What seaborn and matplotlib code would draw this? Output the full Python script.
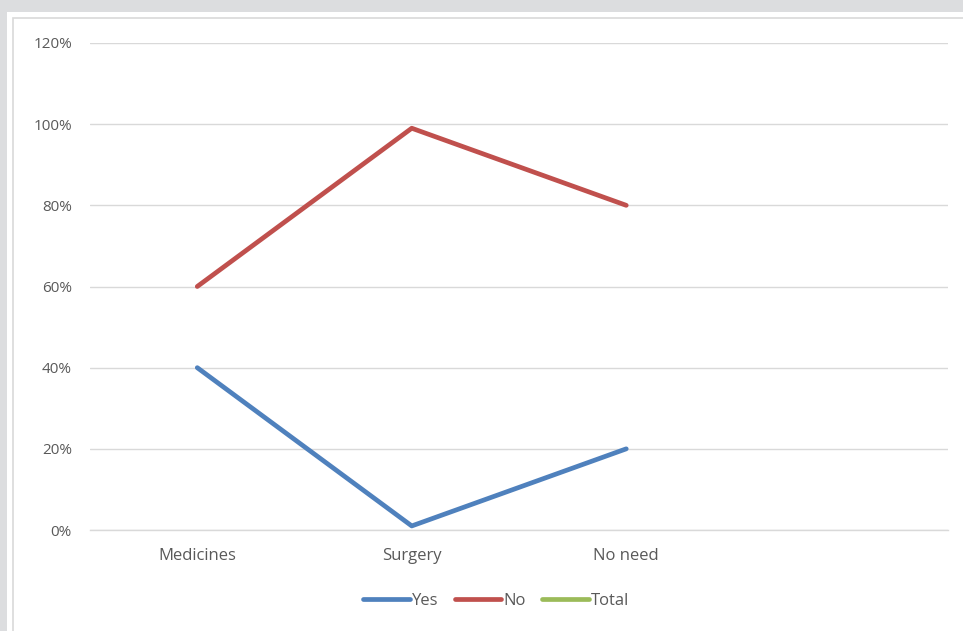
import matplotlib
matplotlib.use("Agg")
import matplotlib.pyplot as plt
from matplotlib.patches import Rectangle
from matplotlib.lines import Line2D
from matplotlib.ticker import PercentFormatter
import seaborn as sns
import pandas as pd
import numpy as np

categories = ["Medicines", "Surgery", "No need", ""]
series_names = ["Yes", "No", "Total"]
yes_vals = [40, 1, 20, np.nan]
no_vals = [60, 99, 80, np.nan]
total_vals = [np.nan, np.nan, np.nan, np.nan]
y_ticks = [0, 20, 40, 60, 80, 100, 120]
colors = {"Yes": "#4F81BD", "No": "#C0504D", "Total": "#9BBB59"}

rows = []
for name, vals in zip(series_names, [yes_vals, no_vals, total_vals]):
    for i, (c, v) in enumerate(zip(categories, vals)):
        rows.append({"pos": i, "category": c, "series": name, "value": v})
df = pd.DataFrame(rows)

sns.set_theme(style="white")
plt.rcParams["font.family"] = ["Open Sans", "DejaVu Sans"]

W, H = 963, 631
fig = plt.figure(figsize=(W / 100, H / 100), dpi=100)
fig.patch.set_facecolor("#DCDDDF")
fig.patches.append(Rectangle((7 / W, 0), 1, 1 - 12 / H, transform=fig.transFigure,
                             facecolor="white", edgecolor="none", zorder=-2))
fig.patches.append(Rectangle((13 / W, -0.1), 1, 1 + 0.1 - 18 / H, transform=fig.transFigure,
                             facecolor="none", edgecolor="#D9D9D9", linewidth=1.2, zorder=-1))

ax = fig.add_axes([90 / W, 1 - 530 / H, (948 - 90) / W, (530 - 43) / H])
ax.set_zorder(2)
ax.set_facecolor("none")

plot_df = df.dropna(subset=["value"])
sns.lineplot(data=plot_df, x="pos", y="value", hue="series", hue_order=["Yes", "No"],
             palette=colors, linewidth=3.4, ax=ax, legend=False, sort=False)

ax.set_xlim(-0.5, len(categories) - 0.5)
ax.set_ylim(0, 120)
ax.set_yticks(y_ticks)
ax.yaxis.set_major_formatter(PercentFormatter(decimals=0))
ax.set_xticks(range(len(categories)))
ax.set_xticklabels(categories)
ax.grid(axis="y", color="#D9D9D9", linewidth=1)
ax.set_axisbelow(True)
for s in ["top", "right", "left"]:
    ax.spines[s].set_visible(False)
ax.spines["bottom"].set_color("#D9D9D9")
ax.spines["bottom"].set_linewidth(1)
ax.tick_params(axis="both", length=0, labelcolor="#595959")
ax.tick_params(axis="y", pad=13, labelsize=11)
ax.tick_params(axis="x", pad=13, labelsize=12)
ax.set_xlabel("")
ax.set_ylabel("")

handles = [Line2D([0], [0], color=colors[n], linewidth=3.4, solid_capstyle="round") for n in series_names]
fig.legend(handles, series_names, loc="center", bbox_to_anchor=(496 / W, 1 - 601 / H),
           ncol=3, frameon=False, fontsize=12, handlelength=2.8, handletextpad=0.1,
           columnspacing=1.0, labelcolor="#595959")

fig.savefig("out.png", dpi=100, facecolor=fig.get_facecolor())
